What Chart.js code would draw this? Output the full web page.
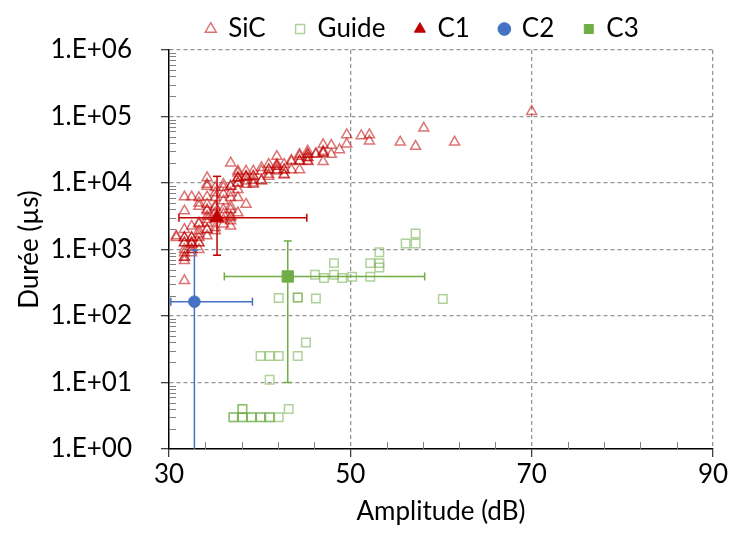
<!DOCTYPE html>
<html><head><meta charset="utf-8">
<script src="https://cdn.jsdelivr.net/npm/chart.js@4.4.0/dist/chart.umd.min.js"></script>
<style>html,body{margin:0;padding:0;background:#fff;}#wrap{width:734px;height:536px;position:relative;}</style>
</head><body><div id="wrap"><canvas id="c" width="734" height="536"></canvas></div>
<script>
// ---------- data ----------
const seriesNames = ['SiC', 'Guide', 'C1', 'C2', 'C3'];

const sicAmplitude = [
  30.8,30.8,
  31.7,31.7,31.7,31.7,31.7,31.7,31.7,31.7,31.7,31.7,31.7,31.7,31.7,
  32.5,32.5,32.5,32.5,32.5,32.5,32.5,32.5,32.5,32.5,
  33.3,33.3,33.3,33.3,33.3,33.3,33.3,33.3,33.3,33.3,33.3,
  34.2,34.2,34.2,34.2,34.2,34.2,34.2,34.2,34.2,34.2,34.2,34.2,34.2,
  35.1,35.1,35.1,35.1,35.1,35.1,35.1,35.1,35.1,
  36.0,36.0,36.0,36.0,36.0,36.0,36.0,36.0,
  36.8,36.8,36.8,36.8,36.8,36.8,36.8,36.8,36.8,36.8,36.8,
  37.6,37.6,37.6,37.6,37.6,37.6,37.6,37.6,37.6,37.6,
  38.5,38.5,38.5,38.5,38.5,38.5,38.5,
  39.3,39.3,39.3,39.3,39.3,39.3,
  40.2,40.2,40.2,40.2,
  41.0,41.0,41.0,41.0,41.0,
  41.9,41.9,41.9,41.9,41.9,41.9,
  42.7,42.7,42.7,42.7,42.7,
  43.5,43.5,43.5,
  44.4,44.4,44.4,44.4,44.4,
  45.3,45.3,45.3,45.3,45.3,45.3,45.3,
  46.2,46.2,
  47.0,47.0,47.0,47.0,47.0,
  47.9,47.9,
  48.8,
  49.6,49.6,
  51.2,
  52.1,52.1,
  55.5,57.2,58.1,61.5,70.0
];
const sicDuration = [
  1510,1600,
  6170,3800,2000,1510,1260,1000,760,680,890,340,1510,1260,760,
  6170,2240,1510,1260,1000,890,1200,1510,1260,1000,
  6030,5000,4470,2400,2500,1900,1510,1260,1000,1700,1260,
  12000,9550,8910,6170,4790,3980,3800,3160,2820,2000,1600,2500,2000,
  8510,7080,6030,4470,4270,3550,3020,2140,1900,
  9550,8510,6760,5370,3980,3390,2820,2400,
  20000,8910,7080,6030,4470,3980,3160,2690,3020,2240,8910,
  15100,14100,12000,11700,10000,7940,6030,3550,12000,10000,
  15100,12600,12300,10700,9550,4790,12300,
  15100,12600,11000,10000,9550,12600,
  17000,15100,10700,11000,
  19100,15800,13500,12600,15800,
  25100,19100,17800,15800,15100,17800,
  19100,15800,13500,13200,15800,
  21900,20900,15800,
  26900,25100,21400,15800,21400,
  30200,26900,24000,20900,21400,24000,26900,
  27500,26900,
  37700,28200,20900,29900,28200,
  36800,26900,
  31600,
  53200,38500,
  51300,
  53200,42700,
  41200,35500,66800,41200,119000
];

const guideAmplitude = [
  37.1,37.1,38.1,38.1,39.1,39.1,40.1,40.1,41.1,41.1,42.1,
  38.1,38.1,43.2,
  41.1,40.1,41.1,42.1,44.2,45.1,
  42.1,44.2,44.2,46.2,
  46.1,47.1,48.2,48.2,49.1,50.2,52.2,52.2,53.2,53.2,53.2,
  56.1,57.2,57.2,60.2
];
const guideDuration = [
  3,3,3,3,3,3,3,3,3,3,3,
  4,4,4,
  11,25,25,25,25,40,
  186,190,190,184,
  417,372,417,624,372,389,389,624,912,624,537,
  1230,1230,1740,180
];

// mean points and their error bar limits
const c1Amplitude = [35.3];
const c1Duration = [3000];
const c1AmplitudeRange = [31.1, 45.2];
const c1DurationRange = [820, 12600];

const c2Amplitude = [32.8];
const c2Duration = [164];
const c2AmplitudeRange = [30.2, 39.2];
const c2DurationRange = [0.5, 980];

const c3Amplitude = [43.1];
const c3Duration = [393];
const c3AmplitudeRange = [36.1, 58.2];
const c3DurationRange = [10, 1345];

// axis ticks
const xTickValues = [30, 50, 70, 90];
const xMinorTickValues = [34, 38, 42, 46, 54, 58, 62, 66, 74, 78, 82, 86];
const yTickValues = [1, 10, 100, 1000, 10000, 100000, 1000000];
const yTickLabels = ['1.E+00', '1.E+01', '1.E+02', '1.E+03', '1.E+04', '1.E+05', '1.E+06'];

// ---------- styling ----------
const FONT = 'Lato';
const RED = '#C00000';
const BLUE = '#4472C4';
const GREEN = '#70AD47';
const GRID = '#969696';

const toPoints = (xs, ys) => xs.map((x, i) => ({x: x, y: ys[i]}));

function errorSets(cx, cy, xr, yr, color, order) {
  const base = {
    type: 'scatter', showLine: true, borderColor: color, borderWidth: 1.5,
    pointStyle: 'line', pointRadius: 4, pointBorderColor: color, pointBorderWidth: 1.5,
    pointBackgroundColor: color, order: order, isError: true, label: ''
  };
  return [
    Object.assign({}, base, {data: [{x: xr[0], y: cy[0]}, {x: xr[1], y: cy[0]}], pointRotation: 90}),
    Object.assign({}, base, {data: [{x: cx[0], y: yr[0]}, {x: cx[0], y: yr[1]}], pointRotation: 0})
  ];
}

const datasets = [
  {label: seriesNames[0], data: toPoints(sicAmplitude, sicDuration), pointStyle: 'triangle',
   pointRadius: 5.8, borderColor: 'rgba(192,0,0,0.55)', backgroundColor: 'rgba(0,0,0,0)', borderWidth: 1.5, order: 10},
  {label: seriesNames[1], data: toPoints(guideAmplitude, guideDuration), pointStyle: 'rect',
   pointRadius: 6, borderColor: 'rgba(112,173,71,0.55)', backgroundColor: 'rgba(0,0,0,0)', borderWidth: 1.5, order: 9},
  ...errorSets(c1Amplitude, c1Duration, c1AmplitudeRange, c1DurationRange, RED, 8),
  {label: seriesNames[2], data: toPoints(c1Amplitude, c1Duration), pointStyle: 'triangle',
   pointRadius: 7.8, borderColor: RED, backgroundColor: RED, borderWidth: 1, order: 7},
  ...errorSets(c2Amplitude, c2Duration, c2AmplitudeRange, c2DurationRange, BLUE, 6),
  {label: seriesNames[3], data: toPoints(c2Amplitude, c2Duration), pointStyle: 'circle',
   pointRadius: 5.8, borderColor: BLUE, backgroundColor: BLUE, borderWidth: 1, order: 5},
  ...errorSets(c3Amplitude, c3Duration, c3AmplitudeRange, c3DurationRange, GREEN, 4),
  {label: seriesNames[4], data: toPoints(c3Amplitude, c3Duration), pointStyle: 'rect',
   pointRadius: 8, borderColor: GREEN, backgroundColor: GREEN, borderWidth: 1, order: 3}
];

const isDecade = v => Math.abs(Math.log10(v) - Math.round(Math.log10(v))) < 1e-9;

const minorTicks = {
  id: 'minorTicks',
  beforeDatasetsDraw(chart) {
    const {ctx, chartArea: a, scales: {x, y}} = chart;
    ctx.save();
    ctx.strokeStyle = '#7f7f7f';
    ctx.lineWidth = 1;
    ctx.beginPath();
    for (let d = 0; d < 6; d++) {
      for (let m = 2; m <= 9; m++) {
        const p = Math.round(y.getPixelForValue(m * Math.pow(10, d))) + 0.5;
        ctx.moveTo(a.left, p); ctx.lineTo(a.left + 7, p);
      }
    }
    xMinorTickValues.forEach(v => {
      const p = Math.round(x.getPixelForValue(v)) + 0.5;
      ctx.moveTo(p, a.bottom); ctx.lineTo(p, a.bottom - 7);
    });
    ctx.stroke();
    ctx.restore();
  }
};

// nudge the legend block so that it sits where the original one does
const legendShift = {
  id: 'legendShift',
  afterLayout(chart) {
    const l = chart.legend;
    if (!l) return;
    l.left += 66; l.right += 66;
    l.top += 2; l.bottom += 2;
  }
};

Chart.defaults.font.family = FONT;
Chart.defaults.color = '#000';

new Chart(document.getElementById('c'), {
  type: 'scatter',
  data: {datasets: datasets},
  options: {
    responsive: false, animation: false, devicePixelRatio: 1, events: [],
    layout: {padding: {top: -16, right: 21, left: 0, bottom: 0}},
    plugins: {
      tooltip: {enabled: false},
      legend: {
        position: 'top', align: 'center',
        labels: {
          usePointStyle: true, boxWidth: 9, boxHeight: 9, padding: 30,
          font: {size: 26, family: FONT}, color: '#000',
          filter: (item, data) => !data.datasets[item.datasetIndex].isError,
          sort: (a, b) => a.datasetIndex - b.datasetIndex
        }
      }
    },
    scales: {
      x: {
        type: 'linear', min: 30, max: 90,
        afterBuildTicks: s => { s.ticks = xTickValues.map(v => ({value: v})); },
        afterFit: s => { s.height = 87; },
        ticks: {font: {size: 26}, color: '#000', padding: 2, autoSkip: false, maxRotation: 0},
        grid: {
          color: c => (c.tick && c.tick.value === 30) ? 'rgba(0,0,0,0)' : GRID,
          lineWidth: 1.3, tickLength: 8, tickColor: '#404040', tickWidth: 1.3
        },
        border: {color: '#000', width: 1.5, dash: [4, 3]},
        title: {display: true, text: 'Amplitude (dB)', font: {size: 26}, color: '#000', padding: {top: 0, bottom: 9}}
      },
      y: {
        type: 'logarithmic', min: 1, max: 1000000,
        afterFit: s => { s.width = 169; },
        ticks: {
          font: {size: 26}, color: '#000', padding: 29, autoSkip: false,
          callback: v => { const i = yTickValues.indexOf(v); return i >= 0 ? yTickLabels[i] : ''; }
        },
        grid: {
          color: c => (c.tick && isDecade(c.tick.value) && c.tick.value !== 1) ? GRID : 'rgba(0,0,0,0)',
          tickColor: c => (c.tick && isDecade(c.tick.value)) ? '#404040' : 'rgba(0,0,0,0)',
          lineWidth: 1.3, tickLength: 8, tickWidth: 1.3
        },
        border: {color: '#000', width: 1.5, dash: [4, 3]},
        title: {display: true, text: 'Durée (µs)', font: {size: 26}, color: '#000', padding: {top: 14, bottom: 0}}
      }
    }
  },
  plugins: [minorTicks, legendShift]
});
</script>
</body></html>
